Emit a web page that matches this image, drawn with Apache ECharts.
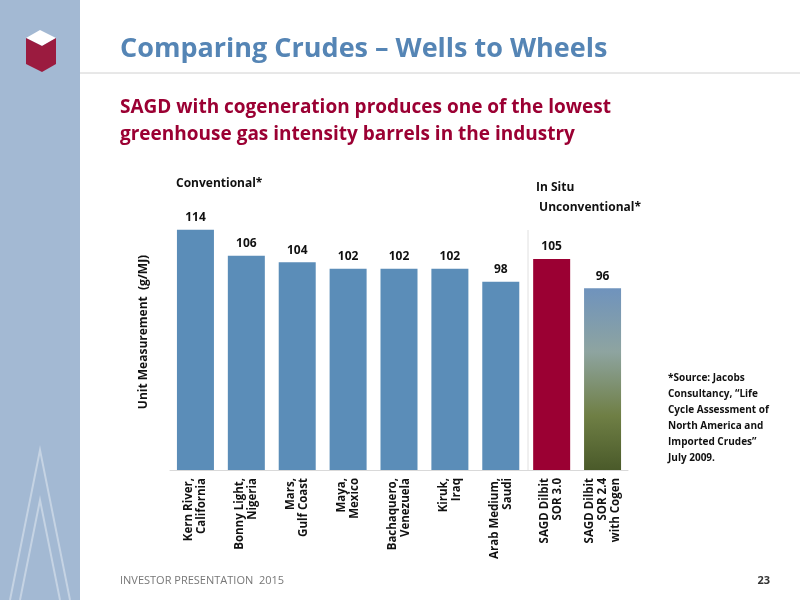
<!DOCTYPE html>
<html>
<head>
<meta charset="utf-8">
<script src="https://cdn.jsdelivr.net/npm/echarts@6/dist/echarts.min.js"></script>
<style>html,body{margin:0;padding:0;background:#fff}#chart{width:800px;height:600px}</style>
</head>
<body>
<div id="chart"></div>
<script>
var categories = ['Kern River,\nCalifornia', 'Bonny Light,\nNigeria', 'Mars,\nGulf Coast', 'Maya,\nMexico',
	'Bachaquero,\nVenezuela', 'Kiruk,\nIraq', 'Arab Medium,\nSaudi', 'SAGD Dilbit\nSOR 3.0', 'SAGD Dilbit\nSOR 2.4\nwith Cogen'];
var values = [114, 106, 104, 102, 102, 102, 98, 105, 96];

var font = 'Open Sans';
var blue = '#5b8db8';
var treeFill = new echarts.graphic.LinearGradient(0, 0, 0, 1, [
	{ offset: 0, color: '#6f93bd' },
	{ offset: 0.35, color: '#8ea4a0' },
	{ offset: 0.7, color: '#6f7f45' },
	{ offset: 1, color: '#4a5a2a' }
]);

var data = values.map(function(v, i) {
	var color = blue;
	if (i == 7) color = '#9b0033';
	if (i == 8) color = treeFill;
	return { value: v, itemStyle: { color: color } };
});

var chart = echarts.init(document.getElementById('chart'));
chart.setOption({
	animation: false,
	grid: { left: 170, right: 172, top: 194, bottom: 130 },
	xAxis: {
		type: 'category',
		data: categories,
		axisLine: { lineStyle: { color: '#d9d9d9' } },
		axisTick: { show: false },
		axisLabel: { rotate: 90, interval: 0, fontFamily: font, fontWeight: 'bold', fontSize: 11.5, color: '#111', lineHeight: 13, align: 'right', margin: 8 }
	},
	yAxis: {
		type: 'value', min: 40, max: 125,
		name: 'Unit Measurement  (g/MJ)', nameLocation: 'middle', nameGap: 20,
		nameTextStyle: { fontFamily: font, fontWeight: 'bold', fontSize: 12, color: '#111' },
		axisLine: { show: false }, axisTick: { show: false },
		axisLabel: { show: false }, splitLine: { show: false }
	},
	series: [{
		type: 'bar', barWidth: 37, data: data,
		label: { show: true, position: 'top', distance: 6, fontFamily: font, fontWeight: 'bold', fontSize: 12, color: '#111' }
	}],
	graphic: [
		{ type: 'rect', shape: { x: 0, y: 0, width: 80, height: 600 }, style: { fill: '#a3b9d3' } },
		{ type: 'polygon', shape: { points: [[26, 38], [40, 30], [56, 38], [42, 46]] }, style: { fill: '#fff' } },
		{ type: 'polygon', shape: { points: [[26, 38], [42, 46], [42, 72], [26, 64]] }, style: { fill: '#9b1b3f' } },
		{ type: 'polygon', shape: { points: [[42, 46], [56, 38], [56, 64], [42, 72]] }, style: { fill: '#9b1b3f' } },
		{ type: 'polyline', shape: { points: [[10, 600], [40, 450], [70, 600]] }, style: { stroke: '#c5d3e3', lineWidth: 2, fill: null } },
		{ type: 'polyline', shape: { points: [[20, 600], [40, 500], [60, 600]] }, style: { stroke: '#c5d3e3', lineWidth: 2, fill: null } },
		{ type: 'line', shape: { x1: 80, y1: 73, x2: 800, y2: 73 }, style: { stroke: '#d0d0d0', lineWidth: 1 } },
		{ type: 'line', shape: { x1: 528, y1: 230, x2: 528, y2: 470 }, style: { stroke: '#e0e0e0', lineWidth: 1 } },
		{ type: 'text', left: 120, top: 36, style: { text: 'Comparing Crudes – Wells to Wheels', font: 'bold 27px "Open Sans"', fill: '#5585b5' } },
		{ type: 'text', left: 120, top: 94, style: { text: 'SAGD with cogeneration produces one of the lowest\ngreenhouse gas intensity barrels in the industry', font: 'bold 19px "Open Sans"', fill: '#9b0033', lineHeight: 27 } },
		{ type: 'text', left: 176, top: 178, style: { text: 'Conventional*', font: 'bold 12px "Open Sans"', fill: '#111' } },
		{ type: 'text', left: 536, top: 178, style: { text: 'In Situ\n Unconventional*', font: 'bold 12px "Open Sans"', fill: '#111', lineHeight: 20 } },
		{ type: 'text', left: 668, top: 370, style: { text: '*Source: Jacobs\nConsultancy, “Life\nCycle Assessment of\nNorth America and\nImported Crudes”\nJuly 2009.', font: 'bold 10px "Open Sans"', fill: '#111', lineHeight: 16 } },
		{ type: 'text', left: 120, top: 575, style: { text: 'INVESTOR PRESENTATION  2015', font: '11px "Open Sans"', fill: '#777' } },
		{ type: 'text', right: 30, top: 575, style: { text: '23', font: 'bold 11px "Open Sans"', fill: '#333' } }
	]
});
</script>
</body>
</html>
